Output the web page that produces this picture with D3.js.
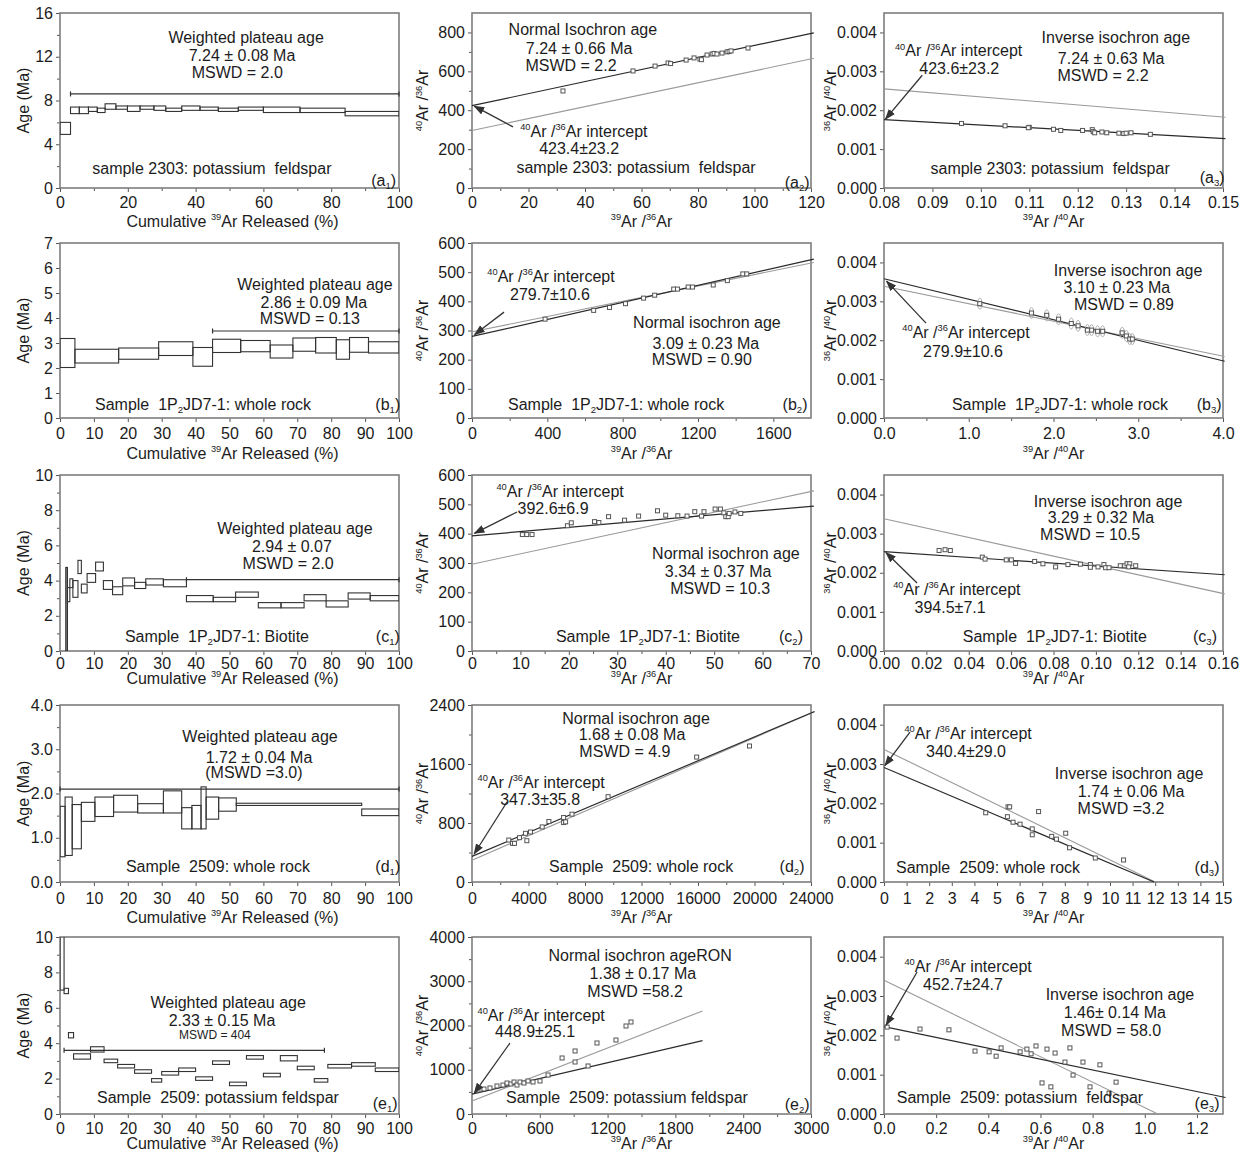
<!DOCTYPE html>
<html>
<head>
<meta charset="utf-8">
<script src="https://cdn.jsdelivr.net/npm/d3@7"></script>
<style>
  body { margin: 0; background: #fff; }
  svg { display: block; }
  text { font-family: "Liberation Sans", Arial, Helvetica, sans-serif; fill: #1c1c1c; white-space: pre; }
</style>
</head>
<body>
<svg id="fig" width="1247" height="1155"></svg>
<script>
// ---------- (a) sample 2303, potassium feldspar ----------
const a1Edges = [0, 3.1, 5.7, 8.4, 11.0, 13.3, 16.5, 19.9, 23.6, 27.7, 31.2, 35.9, 41.3, 46.7, 52.6, 60.0, 70.8, 84.1, 100];
const a1Lo = [4.9, 6.8, 6.8, 7.0, 6.9, 7.2, 7.2, 7.0, 7.2, 7.1, 7.0, 7.1, 7.1, 7.0, 7.1, 6.9, 6.9, 6.6];
const a1Hi = [6.0, 7.4, 7.4, 7.4, 7.3, 7.7, 7.5, 7.5, 7.5, 7.5, 7.3, 7.5, 7.4, 7.3, 7.4, 7.4, 7.3, 7.0];
const a1Plateau = [3.1, 100, 8.6];

const a2X = [32.2, 57.0, 64.8, 69.4, 70.3, 75.8, 78.6, 80.7, 81.2, 83.2, 85.0, 85.7, 86.7, 88.5, 90.3, 91.0, 91.7, 97.7];
const a2Y = [499, 602, 627, 643, 640, 658, 669, 663, 660, 684, 689, 692, 689, 694, 700, 702, 705, 720];
const a2Fit = [0, 423.4, 121, 798];
const a2Ref = [0, 295.5, 121, 667];
const a2Arrow = [14.5, 314, 0.8, 421];

const a3X = [0.096, 0.105, 0.110, 0.1098, 0.115, 0.1165, 0.121, 0.123, 0.1232, 0.1235, 0.125, 0.126, 0.1285, 0.1295, 0.130, 0.131, 0.135];
const a3Y = [0.00166, 0.00160, 0.00156, 0.00155, 0.00151, 0.00148, 0.00148, 0.00150, 0.00145, 0.00142, 0.00144, 0.00142, 0.00141, 0.00140, 0.00141, 0.00142, 0.00138];
const a3Fit = [0.08, 0.00176, 0.1505, 0.00127];
const a3Ref = [0.08, 0.00255, 0.1505, 0.00182];
const a3Arrow = [0.0879, 0.0029, 0.0803, 0.00177];

// ---------- (b) sample 1P2JD7-1, whole rock ----------
const b1Edges = [0, 4.4, 17.3, 29.1, 39.2, 45.0, 53.3, 62.0, 68.7, 75.4, 81.5, 85.4, 91.0, 100];
const b1Lo = [2.02, 2.2, 2.35, 2.5, 2.07, 2.62, 2.65, 2.4, 2.67, 2.6, 2.35, 2.63, 2.6];
const b1Hi = [3.18, 2.75, 2.8, 3.05, 2.82, 3.15, 3.1, 2.92, 3.2, 3.22, 3.13, 3.22, 3.05];
const b1Plateau = [45.0, 100, 3.48];

const b2X = [388, 646, 730, 815, 911, 970, 1071, 1091, 1148, 1171, 1281, 1356, 1438, 1459];
const b2Y = [339, 369, 379, 392, 411, 421, 442, 442, 449, 449, 456, 471, 494, 494];
const b2Fit = [0, 279.7, 1815, 545];
const b2Ref = [0, 295.5, 1815, 533];
const b2Arrow = [170, 363, 14, 286];

const b3X = [1.13, 1.74, 1.92, 2.06, 2.21, 2.29, 2.40, 2.45, 2.52, 2.58, 2.81, 2.86, 2.90, 2.93];
const b3Y = [0.00294, 0.00270, 0.00264, 0.00254, 0.00243, 0.00237, 0.00226, 0.00226, 0.00223, 0.00223, 0.00219, 0.00211, 0.00203, 0.00203];
const b3Fit = [0, 0.00358, 4.02, 0.00146];
const b3Ref = [0, 0.00339, 4.02, 0.00158];
const b3Arrow = [0.496, 0.00244, 0.03, 0.00352];

// ---------- (c) sample 1P2JD7-1, biotite ----------
const c1Edges = [1.7, 2.2, 2.9, 3.8, 5.3, 6.3, 8.0, 10.5, 12.8, 15.5, 18.5, 22.0, 25.3, 30.5, 37.3, 45.2, 51.8, 58.5, 65.2, 72.0, 78.5, 85.0, 91.5, 100];
const c1Lo = [0, 2.8, 3.6, 3.05, 4.4, 3.3, 3.9, 4.55, 3.5, 3.2, 3.7, 3.55, 3.75, 3.65, 2.8, 2.8, 3.05, 2.45, 2.45, 2.85, 2.5, 2.95, 2.85];
const c1Hi = [4.75, 3.6, 4.1, 4.0, 5.15, 3.8, 4.4, 5.05, 4.0, 3.65, 4.15, 3.9, 4.1, 4.05, 3.15, 3.05, 3.35, 2.75, 2.75, 3.2, 2.85, 3.3, 3.15];
const c1Plateau = [37.3, 100, 4.05];

const c2X = [10.4, 11.3, 12.4, 19.7, 20.5, 25.3, 26.2, 28.2, 31.5, 34.4, 38.3, 40.0, 42.5, 44.4, 46.0, 47.4, 47.9, 50.2, 51.3, 52.0, 52.4, 52.9, 53.1, 54.3, 55.5];
const c2Y = [397, 397, 397, 427, 437, 441, 438, 458, 446, 460, 478, 463, 461, 460, 475, 460, 475, 484, 484, 471, 458, 458, 469, 474, 469];
const c2Fit = [0, 392.6, 70.6, 494];
const c2Ref = [0, 296, 70.6, 546];
const c2Arrow = [9.3, 474, 0.5, 401];

const c3X = [0.026, 0.0288, 0.0313, 0.0464, 0.0477, 0.0577, 0.0601, 0.0621, 0.0711, 0.075, 0.081, 0.0868, 0.0927, 0.0974, 0.0974, 0.101, 0.1038, 0.1046, 0.1062, 0.1115, 0.1136, 0.1147, 0.116, 0.1155, 0.1188];
const c3Y = [0.00257, 0.00259, 0.00257, 0.0024, 0.00235, 0.00233, 0.00233, 0.00224, 0.00229, 0.00223, 0.00215, 0.00221, 0.00222, 0.00221, 0.00214, 0.00215, 0.00221, 0.00213, 0.00213, 0.00218, 0.00218, 0.00223, 0.00223, 0.00215, 0.00218];
const c3Fit = [0, 0.00254, 0.1608, 0.00195];
const c3Ref = [0, 0.00338, 0.1608, 0.00146];
const c3Arrow = [0.0156, 0.00174, 0.0009, 0.00252];

// ---------- (d) sample 2509, whole rock ----------
const d1Edges = [0, 1.5, 3.6, 6.3, 10.3, 15.8, 22.9, 30.5, 35.9, 38.9, 41.6, 43.1, 46.8, 52.0, 89.0, 100];
const d1Lo = [0.57, 0.6, 0.75, 1.37, 1.48, 1.58, 1.56, 1.56, 1.2, 1.2, 1.2, 1.42, 1.6, 1.73, 1.5];
const d1Hi = [1.71, 1.92, 1.75, 1.8, 1.92, 1.96, 1.77, 2.06, 1.68, 1.73, 2.15, 1.92, 1.9, 1.78, 1.65];
const d1Plateau = [0, 100, 2.1];

const d2X = [2604, 2864, 3006, 3361, 3787, 3882, 4142, 4970, 5444, 6485, 6485, 6627, 7077, 9633, 15905, 19645];
const d2Y = [569, 524, 524, 601, 660, 560, 678, 747, 820, 874, 806, 815, 920, 1157, 1694, 1844];
const d2Fit = [0, 347.3, 24250, 2312];
const d2Ref = [0, 296, 24250, 2310];
const d2Arrow = [2478, 1085, 150, 380];

const d3X = [4.5, 5.49, 5.56, 5.46, 5.71, 6.02, 6.56, 6.56, 6.84, 7.42, 7.63, 8.04, 8.21, 9.35, 10.6];
const d3Y = [0.00176, 0.00191, 0.00191, 0.00166, 0.00152, 0.00147, 0.00135, 0.0012, 0.00179, 0.00116, 0.00109, 0.00124, 0.00087, 0.00061, 0.00056];
const d3Fit = [0, 0.00291, 11.95, 0];
const d3Ref = [0, 0.00337, 12.0, 0];
const d3Arrow = [1.15, 0.00381, 0.04, 0.00296];

// ---------- (e) sample 2509, potassium feldspar ----------
const e1Edges = [0, 1.2, 2.5, 4.0, 9.0, 13.0, 17.0, 22.0, 27.0, 30.0, 35.0, 40.0, 45.0, 50.0, 55.0, 60.0, 65.0, 70.0, 75.0, 79.0, 86.0, 93.0, 100];
const e1Lo = [7.0, 6.8, 4.3, 3.1, 3.5, 2.9, 2.6, 2.3, 1.8, 2.2, 2.4, 1.9, 2.8, 1.6, 3.1, 2.1, 3.0, 2.5, 1.8, 2.6, 2.7, 2.4];
const e1Hi = [10.5, 7.1, 4.6, 3.4, 3.8, 3.1, 2.8, 2.5, 2.0, 2.4, 2.6, 2.1, 3.0, 1.8, 3.3, 2.3, 3.3, 2.7, 2.0, 2.8, 2.9, 2.6];
const e1Plateau = [1.2, 78, 3.6];

const e2X = [53, 106, 159, 221, 274, 310, 345, 372, 398, 425, 460, 496, 540, 602, 673, 797, 912, 912, 1027, 1106, 1274, 1363, 1407];
const e2Y = [542, 565, 588, 633, 655, 700, 678, 723, 655, 723, 700, 746, 723, 746, 881, 1266, 1175, 1424, 1085, 1605, 1672, 1989, 2079];
const e2Fit = [0, 448.9, 2040, 1660];
const e2Ref = [0, 295.5, 2040, 2330];
const e2Arrow = [336, 1604, 20, 470];

const e3X = [0.012, 0.05, 0.138, 0.249, 0.349, 0.403, 0.43, 0.449, 0.522, 0.548, 0.564, 0.583, 0.606, 0.625, 0.64, 0.656, 0.694, 0.713, 0.725, 0.763, 0.79, 0.828, 0.863, 0.89];
const e3Y = [0.00221, 0.00193, 0.00216, 0.00214, 0.0016, 0.00158, 0.00147, 0.00168, 0.00158, 0.00165, 0.00153, 0.00173, 0.00079, 0.00165, 0.00069, 0.00155, 0.00132, 0.00168, 0.00099, 0.00132, 0.00069, 0.00125, 0.00053, 0.00081];
const e3Fit = [0, 0.00222, 1.31, 0.00042];
const e3Ref = [0, 0.0034, 1.05, 0];
const e3Arrow = [0.127, 0.00361, 0.008, 0.00226];

// ---------- page layout ----------
const colLeft = [60, 472, 884];
const plotW = 339;
const rowTop = [13, 243, 475, 705, 937];
const rowH = [175, 175, 176, 177, 177];
const tickLabOff = [14, 15, 12, 16, 14];
const xTitleOff = [33, 35, 27, 35, 29];
const yTitleX = [29, 428, 836];
const FS = 16;

const svg = d3.select('#fig');
const defs = svg.append('defs');
defs.append('marker').attr('id', 'arrowhead')
  .attr('markerUnits', 'userSpaceOnUse')
  .attr('markerWidth', 11).attr('markerHeight', 8)
  .attr('refX', 10).attr('refY', 4).attr('orient', 'auto')
  .append('path').attr('d', 'M0,0 L11,4 L0,8 Z').attr('fill', '#333');

// text with ^{sup} and _{sub} runs
function rich(sel, str, size) {
  const parts = str.split(/(\^\{[^}]*\}|_\{[^}]*\})/).filter(s => s.length);
  let shift = 0;
  parts.forEach(p => {
    let t = p, fs = size, target = 0;
    if (p.startsWith('^{')) { t = p.slice(2, -1); fs = size * 0.58; target = -size * 0.4; }
    else if (p.startsWith('_{')) { t = p.slice(2, -1); fs = size * 0.6; target = size * 0.2; }
    sel.append('tspan').attr('dy', (target - shift).toFixed(2)).attr('font-size', fs).text(t);
    shift = target;
  });
  return sel;
}

function makePanel(row, col, spec) {
  const left = colLeft[col], top = rowTop[row], h = rowH[row];
  const x = d3.scaleLinear().domain(spec.xDomain).range([left, left + plotW]);
  const y = d3.scaleLinear().domain(spec.yDomain).range([top + h, top]);
  const g = svg.append('g');
  const cid = 'clip-' + row + '-' + col;
  defs.append('clipPath').attr('id', cid).append('rect')
    .attr('x', left).attr('y', top).attr('width', plotW).attr('height', h);

  const style = s => {
    s.select('.domain').remove();
    s.selectAll('line').attr('stroke', '#555').attr('stroke-width', 1);
    s.selectAll('text').attr('font-size', FS).attr('font-family', null).attr('fill', '#1c1c1c');
    s.attr('font-family', null).attr('font-size', null);
  };
  const pad = tickLabOff[row] - 5.7 - 4;
  g.append('g').attr('transform', `translate(0,${top + h})`)
    .call(d3.axisBottom(x).tickValues(spec.xTicks).tickFormat(spec.xFmt).tickSize(4).tickPadding(pad)).call(style);
  if (spec.xMinor) g.append('g').attr('transform', `translate(0,${top + h})`)
    .call(d3.axisBottom(x).tickValues(spec.xMinor).tickFormat('').tickSize(3)).call(style);
  g.append('g').attr('transform', `translate(${left},0)`)
    .call(d3.axisLeft(y).tickValues(spec.yTicks).tickFormat(spec.yFmt).tickSize(4).tickPadding(3)).call(style);
  if (spec.yMinor) g.append('g').attr('transform', `translate(${left},0)`)
    .call(d3.axisLeft(y).tickValues(spec.yMinor).tickFormat('').tickSize(3)).call(style);

  g.append('rect').attr('x', left).attr('y', top).attr('width', plotW).attr('height', h)
    .attr('fill', 'none').attr('stroke', '#7d7d7d').attr('stroke-width', 1.6);

  // axis titles
  rich(g.append('text').attr('text-anchor', 'middle')
    .attr('x', left + plotW / 2 + (col === 0 ? 3 : 0))
    .attr('y', top + h + xTitleOff[row] + 5.7), spec.xTitle, FS);
  rich(g.append('text').attr('text-anchor', 'middle')
    .attr('transform', `translate(${yTitleX[col]},${top + h / 2}) rotate(-90)`), spec.yTitle, FS);

  return { g, x, y, left, top, h, cid };
}

function note(p, fx, fy, str, size) {
  const s = size || FS;
  rich(p.g.append('text').attr('text-anchor', 'middle')
    .attr('x', p.left + fx * plotW).attr('y', p.top + fy * p.h + s * 0.36), str, s);
}

function drawSteps(p, edges, lo, hi, plateau, filledFirst) {
  const idx = d3.range(lo.length);
  const cg = p.g.append('g').attr('clip-path', `url(#${p.cid})`);
  cg.selectAll('rect').data(idx).join('rect')
    .attr('x', i => p.x(edges[i]))
    .attr('width', i => p.x(edges[i + 1]) - p.x(edges[i]))
    .attr('y', i => p.y(hi[i]))
    .attr('height', i => p.y(lo[i]) - p.y(hi[i]))
    .attr('fill', i => (filledFirst && i === 0) ? '#8c8c8c' : 'none')
    .attr('stroke', '#333').attr('stroke-width', 1.1);
  const py = p.y(plateau[2]);
  const pl = p.g.append('g').attr('stroke', '#333').attr('stroke-width', 1.2);
  pl.append('line').attr('x1', p.x(plateau[0])).attr('x2', p.x(plateau[1])).attr('y1', py).attr('y2', py);
  [plateau[0], plateau[1]].forEach(v => pl.append('line')
    .attr('x1', p.x(v)).attr('x2', p.x(v)).attr('y1', py - 2.5).attr('y2', py + 2.5));
}

function drawIso(p, xs, ys, fit, ref, arrow, errBars) {
  p.g.append('line').attr('x1', p.x(ref[0])).attr('y1', p.y(ref[1])).attr('x2', p.x(ref[2])).attr('y2', p.y(ref[3]))
    .attr('stroke', '#9a9a9a').attr('stroke-width', 1.1);
  p.g.append('line').attr('x1', p.x(fit[0])).attr('y1', p.y(fit[1])).attr('x2', p.x(fit[2])).attr('y2', p.y(fit[3]))
    .attr('stroke', '#2a2a2a').attr('stroke-width', 1.2);
  const idx = d3.range(xs.length);
  if (errBars) {
    p.g.selectAll(null).data(idx).join('ellipse')
      .attr('cx', i => p.x(xs[i])).attr('cy', i => p.y(ys[i]))
      .attr('rx', 2.2).attr('ry', 5.5).attr('fill', 'none').attr('stroke', '#b0b0b0').attr('stroke-width', 1);
  }
  p.g.selectAll(null).data(idx).join('rect')
    .attr('x', i => p.x(xs[i]) - 2).attr('y', i => p.y(ys[i]) - 2)
    .attr('width', 4).attr('height', 4)
    .attr('fill', '#fff').attr('stroke', '#555').attr('stroke-width', 1);
  p.g.append('line').attr('x1', p.x(arrow[0])).attr('y1', p.y(arrow[1]))
    .attr('x2', p.x(arrow[2])).attr('y2', p.y(arrow[3]))
    .attr('stroke', '#333').attr('stroke-width', 1.3).attr('marker-end', 'url(#arrowhead)');
}

const f0 = d3.format('d'), f1 = d3.format('.1f'), f2 = d3.format('.2f'), f3 = d3.format('.3f');
const pct = [0, 10, 20, 30, 40, 50, 60, 70, 80, 90, 100];
const stepTitle = 'Cumulative ^{39}Ar Released (%)';
const isoY = '^{40}Ar /^{36}Ar', isoX = '^{39}Ar /^{36}Ar';
const invY = '^{36}Ar /^{40}Ar', invX = '^{39}Ar /^{40}Ar';
const invTicks = [0, 0.001, 0.002, 0.003, 0.004];

// ---- row a ----
let p = makePanel(0, 0, { xDomain: [0, 100], yDomain: [0, 16], xTicks: [0, 20, 40, 60, 80, 100], xMinor: [10, 30, 50, 70, 90], xFmt: f0,
  yTicks: [0, 4, 8, 12, 16], yMinor: [2, 6, 10, 14], yFmt: f0, xTitle: stepTitle, yTitle: 'Age (Ma)' });
drawSteps(p, a1Edges, a1Lo, a1Hi, a1Plateau, false);
note(p, 0.549, 0.137, 'Weighted plateau age');
note(p, 0.537, 0.24, '7.24 ± 0.08 Ma');
note(p, 0.523, 0.34, 'MSWD = 2.0');
note(p, 0.448, 0.886, 'sample 2303: potassium  feldspar');
note(p, 0.955, 0.955, '(a_{1})');

p = makePanel(0, 1, { xDomain: [0, 120], yDomain: [0, 900], xTicks: [0, 20, 40, 60, 80, 100, 120], xMinor: [10, 30, 50, 70, 90, 110], xFmt: f0,
  yTicks: [0, 200, 400, 600, 800], yMinor: [100, 300, 500, 700], yFmt: f0, xTitle: isoX, yTitle: isoY });
drawIso(p, a2X, a2Y, a2Fit, a2Ref, a2Arrow, false);
note(p, 0.327, 0.091, 'Normal Isochron age');
note(p, 0.316, 0.2, '7.24 ± 0.66 Ma');
note(p, 0.292, 0.297, 'MSWD = 2.2');
note(p, 0.33, 0.674, '^{40}Ar /^{36}Ar intercept');
note(p, 0.316, 0.771, '423.4±23.2');
note(p, 0.484, 0.88, 'sample 2303: potassium  feldspar');
note(p, 0.959, 0.965, '(a_{2})');

p = makePanel(0, 2, { xDomain: [0.08, 0.15], yDomain: [0, 0.0045], xTicks: d3.range(8).map(i => 0.08 + i * 0.01), xFmt: f2,
  yTicks: invTicks, yFmt: f3, xTitle: invX, yTitle: invY });
drawIso(p, a3X, a3Y, a3Fit, a3Ref, a3Arrow, false);
note(p, 0.684, 0.137, 'Inverse isochron age');
note(p, 0.67, 0.257, '7.24 ± 0.63 Ma');
note(p, 0.646, 0.354, 'MSWD = 2.2');
note(p, 0.22, 0.215, '^{40}Ar /^{36}Ar intercept');
note(p, 0.222, 0.316, '423.6±23.2');
note(p, 0.49, 0.886, 'sample 2303: potassium  feldspar');
note(p, 0.968, 0.94, '(a_{3})');

// ---- row b ----
p = makePanel(1, 0, { xDomain: [0, 100], yDomain: [0, 7], xTicks: pct, xFmt: f0,
  yTicks: [0, 1, 2, 3, 4, 5, 6, 7], yFmt: f0, xTitle: stepTitle, yTitle: 'Age (Ma)' });
drawSteps(p, b1Edges, b1Lo, b1Hi, b1Plateau, false);
note(p, 0.752, 0.234, 'Weighted plateau age');
note(p, 0.749, 0.337, '2.86 ± 0.09 Ma');
note(p, 0.737, 0.429, 'MSWD = 0.13');
note(p, 0.422, 0.92, 'Sample  1P_{2}JD7-1: whole rock');
note(p, 0.967, 0.92, '(b_{1})');

p = makePanel(1, 1, { xDomain: [0, 1800], yDomain: [0, 600], xTicks: [0, 400, 800, 1200, 1600], xMinor: [200, 600, 1000, 1400], xFmt: f0,
  yTicks: [0, 100, 200, 300, 400, 500, 600], yFmt: f0, xTitle: isoX, yTitle: isoY });
drawIso(p, b2X, b2Y, b2Fit, b2Ref, b2Arrow, false);
note(p, 0.233, 0.189, '^{40}Ar /^{36}Ar intercept');
note(p, 0.23, 0.291, '279.7±10.6');
note(p, 0.693, 0.451, 'Normal isochron age');
note(p, 0.69, 0.571, '3.09 ± 0.23 Ma');
note(p, 0.678, 0.663, 'MSWD = 0.90');
note(p, 0.425, 0.92, 'Sample  1P_{2}JD7-1: whole rock');
note(p, 0.953, 0.92, '(b_{2})');

p = makePanel(1, 2, { xDomain: [0, 4], yDomain: [0, 0.0045], xTicks: [0, 1, 2, 3, 4], xMinor: [0.5, 1.5, 2.5, 3.5], xFmt: f1,
  yTicks: invTicks, yFmt: f3, xTitle: invX, yTitle: invY });
drawIso(p, b3X, b3Y, b3Fit, b3Ref, b3Arrow, true);
note(p, 0.72, 0.154, 'Inverse isochron age');
note(p, 0.687, 0.251, '3.10 ± 0.23 Ma');
note(p, 0.708, 0.349, 'MSWD = 0.89');
note(p, 0.242, 0.509, '^{40}Ar /^{36}Ar intercept');
note(p, 0.233, 0.617, '279.9±10.6');
note(p, 0.519, 0.92, 'Sample  1P_{2}JD7-1: whole rock');
note(p, 0.959, 0.92, '(b_{3})');

// ---- row c ----
p = makePanel(2, 0, { xDomain: [0, 100], yDomain: [0, 10], xTicks: pct, xFmt: f0,
  yTicks: [0, 2, 4, 6, 8, 10], yMinor: [1, 3, 5, 7, 9], yFmt: f0, xTitle: stepTitle, yTitle: 'Age (Ma)' });
drawSteps(p, c1Edges, c1Lo, c1Hi, c1Plateau, true);
note(p, 0.693, 0.301, 'Weighted plateau age');
note(p, 0.684, 0.403, '2.94 ± 0.07');
note(p, 0.673, 0.5, 'MSWD = 2.0');
note(p, 0.463, 0.915, 'Sample  1P_{2}JD7-1: Biotite');
note(p, 0.967, 0.915, '(c_{1})');

p = makePanel(2, 1, { xDomain: [0, 70], yDomain: [0, 600], xTicks: [0, 10, 20, 30, 40, 50, 60, 70], xMinor: [5, 15, 25, 35, 45, 55, 65], xFmt: f0,
  yTicks: [0, 100, 200, 300, 400, 500, 600], yFmt: f0, xTitle: isoX, yTitle: isoY });
drawIso(p, c2X, c2Y, c2Fit, c2Ref, c2Arrow, false);
note(p, 0.26, 0.091, '^{40}Ar /^{36}Ar intercept');
note(p, 0.239, 0.188, '392.6±6.9');
note(p, 0.749, 0.443, 'Normal isochron age');
note(p, 0.726, 0.545, '3.34 ± 0.37 Ma');
note(p, 0.732, 0.642, 'MSWD = 10.3');
note(p, 0.519, 0.915, 'Sample  1P_{2}JD7-1: Biotite');
note(p, 0.941, 0.915, '(c_{2})');

p = makePanel(2, 2, { xDomain: [0, 0.16], yDomain: [0, 0.0045], xTicks: d3.range(9).map(i => i * 0.02), xFmt: f2,
  yTicks: invTicks, yFmt: f3, xTitle: invX, yTitle: invY });
drawIso(p, c3X, c3Y, c3Fit, c3Ref, c3Arrow, false);
note(p, 0.661, 0.148, 'Inverse isochron age');
note(p, 0.64, 0.239, '3.29 ± 0.32 Ma');
note(p, 0.608, 0.335, 'MSWD = 10.5');
note(p, 0.215, 0.648, '^{40}Ar /^{36}Ar intercept');
note(p, 0.195, 0.75, '394.5±7.1');
note(p, 0.504, 0.915, 'Sample  1P_{2}JD7-1: Biotite');
note(p, 0.947, 0.915, '(c_{3})');

// ---- row d ----
p = makePanel(3, 0, { xDomain: [0, 100], yDomain: [0, 4], xTicks: pct, xFmt: f0,
  yTicks: [0, 1, 2, 3, 4], yMinor: [0.5, 1.5, 2.5, 3.5], yFmt: f1, xTitle: stepTitle, yTitle: 'Age (Ma)' });
drawSteps(p, d1Edges, d1Lo, d1Hi, d1Plateau, false);
note(p, 0.59, 0.175, 'Weighted plateau age');
note(p, 0.587, 0.294, '1.72 ± 0.04 Ma');
note(p, 0.572, 0.379, '(MSWD =3.0)');
note(p, 0.466, 0.91, 'Sample  2509: whole rock');
note(p, 0.967, 0.91, '(d_{1})');

p = makePanel(3, 1, { xDomain: [0, 24000], yDomain: [0, 2400], xTicks: d3.range(7).map(i => i * 4000), xMinor: d3.range(6).map(i => 2000 + i * 4000), xFmt: f0,
  yTicks: [0, 800, 1600, 2400], yMinor: [400, 1200, 2000], yFmt: f0, xTitle: isoX, yTitle: isoY });
drawIso(p, d2X, d2Y, d2Fit, d2Ref, d2Arrow, false);
note(p, 0.484, 0.073, 'Normal isochron age');
note(p, 0.472, 0.164, '1.68 ± 0.08 Ma');
note(p, 0.451, 0.26, 'MSWD = 4.9');
note(p, 0.204, 0.435, '^{40}Ar /^{36}Ar intercept');
note(p, 0.201, 0.531, '347.3±35.8');
note(p, 0.499, 0.91, 'Sample  2509: whole rock');
note(p, 0.944, 0.91, '(d_{2})');

p = makePanel(3, 2, { xDomain: [0, 15], yDomain: [0, 0.0045], xTicks: d3.range(16), xFmt: f0,
  yTicks: invTicks, yFmt: f3, xTitle: invX, yTitle: invY });
drawIso(p, d3X, d3Y, d3Fit, d3Ref, d3Arrow, false);
note(p, 0.248, 0.158, '^{40}Ar /^{36}Ar intercept');
note(p, 0.242, 0.26, '340.4±29.0');
note(p, 0.723, 0.384, 'Inverse isochron age');
note(p, 0.729, 0.486, '1.74 ± 0.06 Ma');
note(p, 0.699, 0.582, 'MSWD =3.2');
note(p, 0.307, 0.915, 'Sample  2509: whole rock');
note(p, 0.953, 0.915, '(d_{3})');

// ---- row e ----
p = makePanel(4, 0, { xDomain: [0, 100], yDomain: [0, 10], xTicks: pct, xFmt: f0,
  yTicks: [0, 2, 4, 6, 8, 10], yMinor: [1, 3, 5, 7, 9], yFmt: f0, xTitle: stepTitle, yTitle: 'Age (Ma)' });
drawSteps(p, e1Edges, e1Lo, e1Hi, e1Plateau, false);
note(p, 0.496, 0.367, 'Weighted plateau age');
note(p, 0.478, 0.469, '2.33 ± 0.15 Ma');
note(p, 0.457, 0.554, 'MSWD = 404', 12);
note(p, 0.466, 0.904, 'Sample  2509: potassium feldspar');
note(p, 0.959, 0.938, '(e_{1})');

p = makePanel(4, 1, { xDomain: [0, 3000], yDomain: [0, 4000], xTicks: [0, 600, 1200, 1800, 2400, 3000], xMinor: [300, 900, 1500, 2100, 2700], xFmt: f0,
  yTicks: [0, 1000, 2000, 3000, 4000], yMinor: [500, 1500, 2500, 3500], yFmt: f0, xTitle: isoX, yTitle: isoY });
drawIso(p, e2X, e2Y, e2Fit, e2Ref, e2Arrow, false);
note(p, 0.496, 0.102, 'Normal isochron ageRON');
note(p, 0.504, 0.203, '1.38 ± 0.17 Ma');
note(p, 0.481, 0.305, 'MSWD =58.2');
note(p, 0.204, 0.441, '^{40}Ar /^{36}Ar intercept');
note(p, 0.186, 0.531, '448.9±25.1');
note(p, 0.457, 0.904, 'Sample  2509: potassium feldspar');
note(p, 0.959, 0.943, '(e_{2})');

p = makePanel(4, 2, { xDomain: [0, 1.3], yDomain: [0, 0.0045], xTicks: d3.range(7).map(i => i * 0.2), xFmt: f1,
  yTicks: invTicks, yFmt: f3, xTitle: invX, yTitle: invY });
drawIso(p, e3X, e3Y, e3Fit, e3Ref, e3Arrow, false);
note(p, 0.248, 0.164, '^{40}Ar /^{36}Ar intercept');
note(p, 0.233, 0.266, '452.7±24.7');
note(p, 0.696, 0.322, 'Inverse isochron age');
note(p, 0.681, 0.424, '1.46± 0.14 Ma');
note(p, 0.67, 0.525, 'MSWD = 58.0');
note(p, 0.401, 0.904, 'Sample  2509: potassium  feldspar');
note(p, 0.953, 0.938, '(e_{3})');
</script>
</body>
</html>
